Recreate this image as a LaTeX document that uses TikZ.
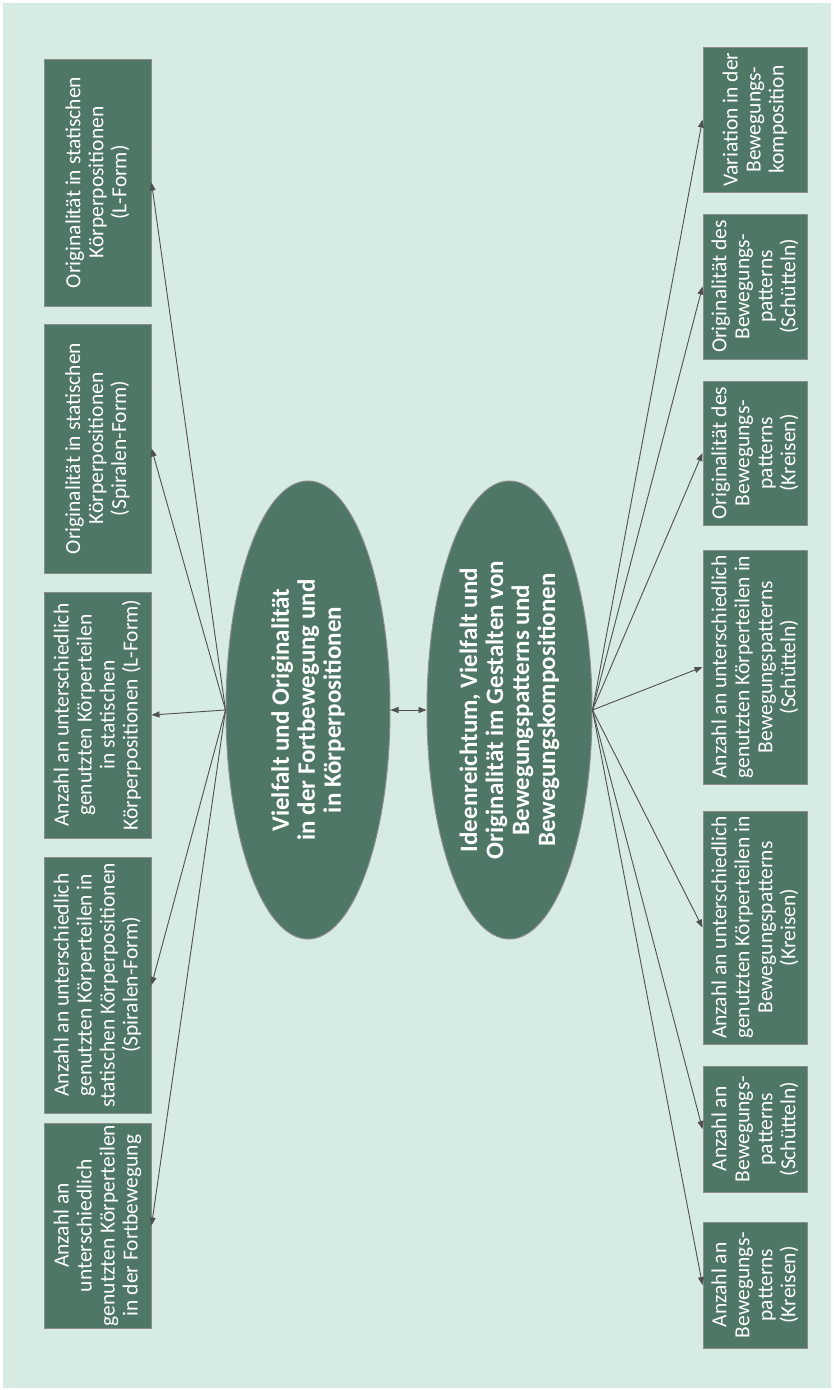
\documentclass[tikz,border=0pt]{standalone}
\usepackage{fontspec}
\setmainfont{Carlito}
\usetikzlibrary{positioning, arrows.meta, shapes.geometric}
\definecolor{bgmint}{HTML}{D6EBE1}
\definecolor{boxgreen}{HTML}{4E7765}
\definecolor{rimgray}{HTML}{8C8C8C}
\definecolor{linegray}{HTML}{505050}

\begin{document}
\begin{tikzpicture}[x=1pt, y=-1pt,
        leaf/.style={rectangle, draw=rimgray, fill=boxgreen, text=white, rotate=90,
            align=center, inner sep=0pt, line width=1pt,
            font=\fontsize{21.5}{23}\selectfont},
        hub/.style={ellipse, draw=rimgray, fill=boxgreen, text=white, rotate=90,
            align=center, inner sep=0pt, line width=1pt,
            font=\bfseries\fontsize{25}{26}\selectfont},
        link/.style={draw=linegray, line width=0.9pt, -{Triangle[length=8pt, width=6pt]}}]
        \fill[white] (0,0) rectangle (833,1390);
        \fill[bgmint] (3,3) rectangle (831,1388);
        % centre
        \node[hub, minimum width=458pt, minimum height=164pt] (lel) at (308,710)
            {Vielfalt und Originalität\\in der Fortbewegung und\\in Körperpositionen};
        \node[hub, minimum width=458pt, minimum height=165pt] (rel) at (509.5,710)
            {Ideenreichtum, Vielfalt und\\Originalität im Gestalten von\\Bewegungspatterns und\\Bewegungskompositionen};
        \draw[link, {Triangle[length=8pt, width=6pt]}-{Triangle[length=8pt, width=6pt]}] (lel.south) -- (rel.north);
        % left side
        \node[leaf, minimum width=247pt, minimum height=107pt] (l1) at (97.5,182.5)
            {Originalität in statischen\\Körperpositionen\\(L-Form)};
        \node[leaf, minimum width=249pt, minimum height=107pt] (l2) at (97.5,448.5)
            {Originalität in statischen\\Körperpositionen\\(Spiralen-Form)};
        \node[leaf, minimum width=246pt, minimum height=107pt] (l3) at (97.5,715)
            {Anzahl an unterschiedlich\\genutzten Körperteilen\\in statischen\\Körperpositionen (L-Form)};
        \node[leaf, minimum width=256pt, minimum height=107pt] (l4) at (97.5,985)
            {Anzahl an unterschiedlich\\genutzten Körperteilen in\\statischen Körperpositionen\\(Spiralen-Form)};
        \node[leaf, minimum width=205pt, minimum height=107pt] (l5) at (97.5,1225.5)
            {Anzahl an\\unterschiedlich\\genutzten Körperteilen\\in der Fortbewegung};
        % right side
        \node[leaf, minimum width=145pt, minimum height=104pt] (r1) at (755,119.5)
            {Variation in der\\Bewegungs-\\komposition};
        \node[leaf, minimum width=145pt, minimum height=104pt] (r2) at (755,286.5)
            {Originalität des\\Bewegungs-\\patterns\\(Schütteln)};
        \node[leaf, minimum width=144pt, minimum height=104pt] (r3) at (755,453)
            {Originalität des\\Bewegungs-\\patterns\\(Kreisen)};
        \node[leaf, minimum width=234pt, minimum height=104pt] (r4) at (755,667)
            {Anzahl an unterschiedlich\\genutzten Körperteilen in\\Bewegungspatterns\\(Schütteln)};
        \node[leaf, minimum width=233pt, minimum height=104pt] (r5) at (755,927.5)
            {Anzahl an unterschiedlich\\genutzten Körperteilen in\\Bewegungspatterns\\(Kreisen)};
        \node[leaf, minimum width=126pt, minimum height=104pt] (r6) at (755,1129)
            {Anzahl an\\Bewegungs-\\patterns\\(Schütteln)};
        \node[leaf, minimum width=126pt, minimum height=104pt] (r7) at (755,1285)
            {Anzahl an\\Bewegungs-\\patterns\\(Kreisen)};
        % connectors
        \foreach \n in {l1,l2,l3,l4,l5}
            \draw[link] (lel.north) -- (\n.south);
        \foreach \n in {r1,r2,r3,r4,r5,r6,r7}
            \draw[link] (rel.south) -- (\n.north);
\end{tikzpicture}
\end{document}
